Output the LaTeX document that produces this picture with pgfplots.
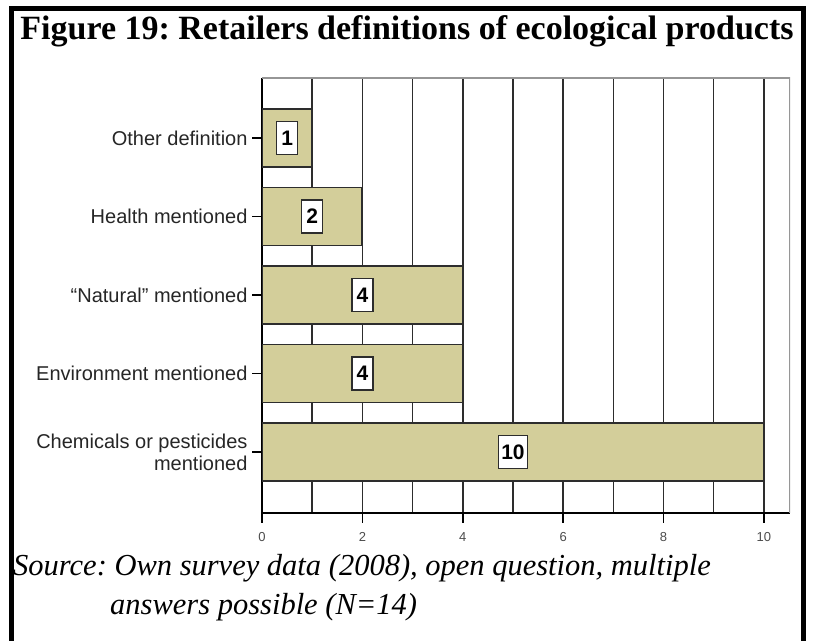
\documentclass[border=0pt]{standalone}
\usepackage{fontspec}
\setmainfont{Liberation Serif}
\setsansfont{Liberation Sans}
\usepackage{pgfplots}
\pgfplotsset{compat=1.18}
\definecolor{barfill}{RGB}{211,206,154}
\definecolor{edge}{RGB}{45,45,45}
\definecolor{framegray}{RGB}{150,150,150}
\frenchspacing
\begin{document}
\begin{tikzpicture}
\useasboundingbox (0,0) rectangle (814pt,640pt);
% outer frame (open at the bottom)
\draw[line width=5pt] (11pt,-5pt) -- (11pt,631.5pt) -- (803pt,631.5pt) -- (803pt,-5pt);
\node[anchor=base, inner sep=0pt, font=\fontsize{34}{40}\selectfont\bfseries]
  at (407pt,600pt) {Figure 19: Retailers definitions of ecological products};

\begin{axis}[
    at={(262pt,127pt)}, anchor=south west,
    scale only axis, width=528pt, height=435pt,
    xmin=0, xmax=10.52, ymin=-0.777, ymax=4.764,
    axis x line*=bottom, axis y line*=left,
    axis line style={-, line width=1.5pt, black},
    xtick={0,2,...,10}, minor xtick={1,3,...,9},
    xmajorgrids, xminorgrids,
    grid style={line width=1.5pt, edge},
    minor grid style={line width=1.5pt, edge},
    ytick={0,1,2,3,4},
    yticklabels={{Chemicals or pesticides\\mentioned},Environment mentioned,%
                 ``Natural'' mentioned,Health mentioned,Other definition},
    tick align=outside, major tick length=10pt, minor tick length=0pt,
    tick style={line width=1.5pt, black},
    /pgf/number format/assume math mode=true,
    xticklabel style={font=\fontsize{13}{13}\selectfont\sffamily, text=black!70, yshift=-6pt},
    yticklabel style={font=\fontsize{20}{22}\selectfont\sffamily, text=black!85, align=right, xshift=-1pt},
]
\addplot[xbar, bar width=58pt, fill=barfill, draw=edge, line width=1.8pt]
  coordinates {(10,0) (4,1) (4,2) (2,3) (1,4)};
% value boxes at the middle of each bar
\addplot[draw=none, mark=none, nodes near coords, point meta=explicit symbolic,
  nodes near coords style={anchor=center, draw=edge, fill=white, line width=1.5pt,
    inner sep=3pt, minimum width=21pt, minimum height=33pt,
    font=\fontsize{21}{21}\selectfont\sffamily\bfseries, text=black}]
  coordinates {(5,0) [10] (2,1) [4] (2,2) [4] (1,3) [2] (0.5,4) [1]};
\draw[framegray, line width=1.2pt] (rel axis cs:0,1) -- (rel axis cs:1,1) -- (rel axis cs:1,0);
\end{axis}

\node[anchor=base west, inner sep=0pt, font=\fontsize{30.5}{36}\selectfont\itshape]
  at (13pt,64pt) {Source: Own survey data (2008), open question, multiple};
\node[anchor=base west, inner sep=0pt, font=\fontsize{30.5}{36}\selectfont\itshape]
  at (110pt,25pt) {answers possible (N=14)};
\end{tikzpicture}
\end{document}
